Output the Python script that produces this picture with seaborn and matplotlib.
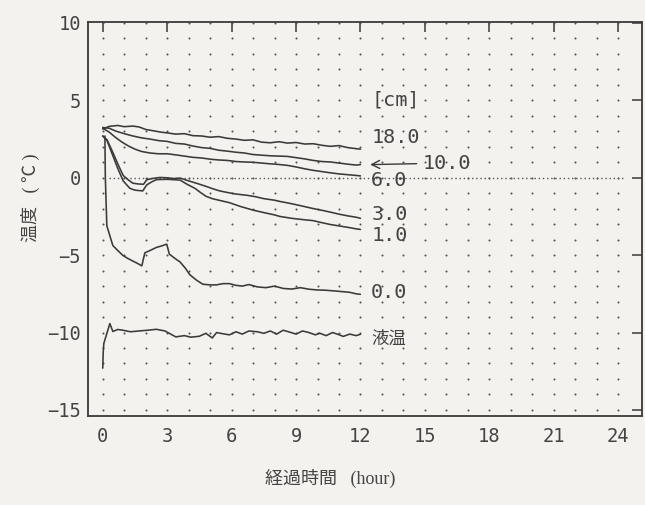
import numpy as np
import pandas as pd
import matplotlib
matplotlib.use("Agg")
import matplotlib.pyplot as plt
import seaborn as sns

# Elapsed time (hour) and temperature (°C) for each measuring depth
depth_labels = ["18.0", "10.0", "6.0", "3.0", "1.0", "0.0", "液温"]

t_18 = [0, 0.3, 0.7, 1.0, 1.4, 1.7, 2.0, 2.3, 2.7, 3.0, 3.4, 3.8, 4.2, 4.6, 5.0, 5.4,
        5.8, 6.2, 6.6, 7.0, 7.4, 7.8, 8.2, 8.6, 9.0, 9.4, 9.8, 10.2, 10.6, 11.0, 11.4, 11.8, 12.0]
v_18 = [3.15, 3.32, 3.38, 3.30, 3.34, 3.28, 3.12, 3.05, 2.95, 2.90, 2.82, 2.85, 2.72, 2.70,
        2.62, 2.66, 2.55, 2.50, 2.42, 2.45, 2.30, 2.26, 2.33, 2.24, 2.28, 2.18, 2.20, 2.10,
        2.03, 2.08, 1.95, 1.88, 1.85]

t_10 = [0, 0.3, 0.6, 1.0, 1.4, 1.8, 2.2, 2.6, 3.0, 3.4, 3.8, 4.2, 4.6, 5.0, 5.4, 5.8, 6.2,
        6.6, 7.0, 7.4, 7.8, 8.2, 8.6, 9.0, 9.4, 9.8, 10.2, 10.6, 11.0, 11.4, 11.8, 12.0]
v_10 = [3.25, 3.20, 3.02, 2.85, 2.70, 2.58, 2.50, 2.40, 2.35, 2.22, 2.18, 2.05, 1.95, 1.90,
        1.78, 1.72, 1.65, 1.60, 1.50, 1.46, 1.42, 1.40, 1.38, 1.30, 1.22, 1.12, 1.05, 1.02,
        0.95, 0.88, 0.82, 0.85]

t_6 = [0, 0.3, 0.6, 0.9, 1.2, 1.5, 1.8, 2.2, 2.6, 3.0, 3.4, 3.8, 4.2, 4.6, 5.0, 5.4, 5.8,
       6.2, 6.6, 7.0, 7.4, 7.8, 8.2, 8.6, 9.0, 9.4, 9.8, 10.2, 10.6, 11.0, 11.4, 11.8, 12.0]
v_6 = [3.2, 2.95, 2.6, 2.3, 2.05, 1.85, 1.70, 1.60, 1.55, 1.55, 1.48, 1.40, 1.32, 1.28, 1.20,
       1.15, 1.12, 1.05, 1.02, 1.00, 0.95, 0.90, 0.86, 0.80, 0.70, 0.58, 0.48, 0.40, 0.32,
       0.25, 0.20, 0.15, 0.12]

t_3 = [0, 0.2, 0.45, 0.7, 0.95, 1.2, 1.4, 1.65, 1.9, 2.05, 2.3, 2.66, 3.0, 3.3, 3.6, 4.0,
       4.4, 4.8, 5.1, 5.45, 5.8, 6.2, 6.7, 7.1, 7.5, 8.0, 8.25, 8.7, 9.2, 9.8, 10.2, 10.6,
       11.0, 11.4, 11.8, 12.0]
v_3 = [2.7, 2.45, 1.7, 0.9, 0.15, -0.15, -0.35, -0.40, -0.42, -0.13, -0.05, 0.02, 0.0,
       -0.05, -0.02, -0.2, -0.37, -0.55, -0.70, -0.85, -0.95, -1.05, -1.13, -1.22, -1.35,
       -1.45, -1.53, -1.65, -1.80, -1.99, -2.1, -2.22, -2.35, -2.46, -2.55, -2.62]

t_1 = [0, 0.2, 0.45, 0.7, 0.95, 1.26, 1.5, 1.86, 2.05, 2.3, 2.5, 3.0, 3.6, 3.9, 4.3, 4.55,
       4.8, 5.1, 5.5, 5.9, 6.4, 7.0, 7.5, 8.0, 8.25, 8.8, 9.3, 9.8, 10.2, 10.6, 11.0, 11.4,
       11.8, 12.0]
v_1 = [2.7, 2.4, 1.5, 0.6, -0.2, -0.68, -0.80, -0.85, -0.46, -0.25, -0.12, -0.10, -0.15,
       -0.40, -0.69, -0.95, -1.19, -1.35, -1.48, -1.61, -1.85, -2.09, -2.25, -2.40, -2.5,
       -2.62, -2.70, -2.77, -2.90, -3.02, -3.11, -3.20, -3.30, -3.34]

t_0 = [0.1, 0.12, 0.19, 0.33, 0.47, 0.7, 0.93, 1.15, 1.4, 1.6, 1.82, 1.96, 2.2, 2.5, 2.75,
       2.98, 3.1, 3.35, 3.6, 3.85, 4.05, 4.35, 4.66, 5.0, 5.3, 5.6, 5.9, 6.2, 6.5, 6.8, 7.2,
       7.6, 8.0, 8.4, 8.8, 9.2, 9.6, 10.0, 10.3, 10.7, 11.1, 11.5, 11.8, 12.0]
v_0 = [2.7, 0.0, -3.1, -3.74, -4.38, -4.7, -5.01, -5.2, -5.38, -5.52, -5.69, -4.85, -4.7,
       -4.5, -4.4, -4.29, -4.93, -5.2, -5.44, -5.85, -6.26, -6.6, -6.88, -6.92, -6.92, -6.84,
       -6.84, -6.95, -7.0, -6.9, -7.05, -7.1, -7.0, -7.15, -7.19, -7.1, -7.2, -7.25, -7.26,
       -7.3, -7.35, -7.4, -7.5, -7.53]

t_liq = [0.0, 0.02, 0.05, 0.33, 0.47, 0.7, 0.93, 1.3, 1.75, 2.1, 2.5, 2.9, 3.4, 3.8, 4.1,
         4.5, 4.8, 5.1, 5.3, 5.6, 5.9, 6.2, 6.5, 6.8, 7.2, 7.5, 7.8, 8.1, 8.4, 8.7, 9.0, 9.3,
         9.6, 9.9, 10.1, 10.4, 10.7, 11.0, 11.2, 11.5, 11.8, 12.0]
v_liq = [-12.3, -11.3, -10.7, -9.42, -9.93, -9.8, -9.85, -9.95, -9.89, -9.85, -9.79, -9.9,
         -10.28, -10.2, -10.3, -10.24, -10.05, -10.35, -10.0, -10.08, -10.15, -9.95, -10.1,
         -9.9, -9.95, -10.05, -9.9, -10.1, -9.85, -9.97, -10.1, -9.9, -10.0, -10.15, -10.04,
         -10.2, -10.0, -10.14, -10.25, -10.1, -10.2, -10.11]

# Label anchor (hour, °C) next to the end of each curve
label_x = [12.5, 14.9, 12.5, 12.5, 12.5, 12.5, 12.5]
label_y = [2.6, 0.95, -0.16, -2.35, -3.7, -7.4, -10.4]

# Reference level 0 °C
zero_x = [0.3, 24.3]
zero_y = [0.0, 0.0]

x_ticks = [0, 3, 6, 9, 12, 15, 18, 21, 24]
y_ticks = [-15, -10, -5, 0, 5, 10]
grid_x = list(range(0, 25))
grid_y = list(range(-15, 11))

series = [(t_18, v_18), (t_10, v_10), (t_6, v_6), (t_3, v_3), (t_1, v_1), (t_0, v_0), (t_liq, v_liq)]
frames = []
for name, (t, v) in zip(depth_labels, series):
    frames.append(pd.DataFrame({"hour": t, "temp": v, "depth": name}))
df = pd.concat(frames, ignore_index=True)

sns.set_theme(style="white")
plt.rcParams["font.family"] = ["DejaVu Sans Mono", "Noto Sans CJK JP"]

ink = "#3a3a3a"
paper = "#f3f2ee"
text_col = "#444444"

fig = plt.figure(figsize=(6.45, 5.05), dpi=100, facecolor=paper)
ax = fig.add_axes([0.136, 0.176, 0.859, 0.780])
ax.set_facecolor(paper)

# dot grid
gx, gy = np.meshgrid(grid_x, grid_y)
ax.scatter(gx.ravel(), gy.ravel(), s=2.2, color="#555555", linewidths=0, zorder=1, clip_on=False)

# 0 °C reference
ax.plot(zero_x, zero_y, color="#555555", lw=1.0, ls=(0, (1, 2.0)), zorder=2)

sns.lineplot(data=df, x="hour", y="temp", units="depth", estimator=None, sort=False,
             color=ink, lw=1.15, ax=ax, legend=False, zorder=3)

# curve labels
label_font = dict(fontsize=14.5, color=text_col, va="center", ha="left")
for name, lx, ly in zip(depth_labels, label_x, label_y):
    if name == "10.0":
        ax.annotate(name, xy=(12.45, 0.85), xytext=(lx, ly), textcoords="data",
                    arrowprops=dict(arrowstyle="->", color=ink, lw=1.0, shrinkA=2, shrinkB=0),
                    **label_font)
    elif name == "液温":
        ax.text(lx, ly, name, family=["Noto Sans CJK JP"], fontsize=12.5, color=text_col,
                va="center", ha="left")
    else:
        ax.text(lx, ly, name, **label_font)
ax.text(12.5, 5.0, "[cm]", **label_font)

ax.set_xlim(-0.7, 25.1)
ax.set_ylim(-15.4, 10.05)
ax.set_xticks(x_ticks)
ax.set_yticks(y_ticks)
ax.set_xticklabels([str(v) for v in x_ticks])
ax.set_yticklabels([str(v).replace("-", "\u2212") for v in y_ticks])
ax.set_xlabel("")
ax.set_ylabel("")

for side in ["left", "right", "top", "bottom"]:
    ax.spines[side].set_visible(True)
    ax.spines[side].set_color(ink)
    ax.spines[side].set_linewidth(1.3)

ax.tick_params(axis="both", which="major", direction="in", length=7, width=1.1, color=ink,
               labelsize=13.5, labelcolor=text_col, top=True, right=True)
ax.tick_params(axis="x", pad=8)
ax.tick_params(axis="y", pad=5)

axis_font = ["Liberation Serif", "Noto Sans CJK JP"]
fig.text(330 / 645, 1 - 478 / 505, "経過時間   (hour)", family=axis_font, fontsize=13,
         color=text_col, ha="center", va="center")
fig.text(30 / 645, 1 - 198 / 505, "温度   ( ℃ )", family=axis_font, fontsize=13,
         color=text_col, ha="center", va="center", rotation=90)

fig.savefig("out.png", dpi=100, facecolor=paper)
